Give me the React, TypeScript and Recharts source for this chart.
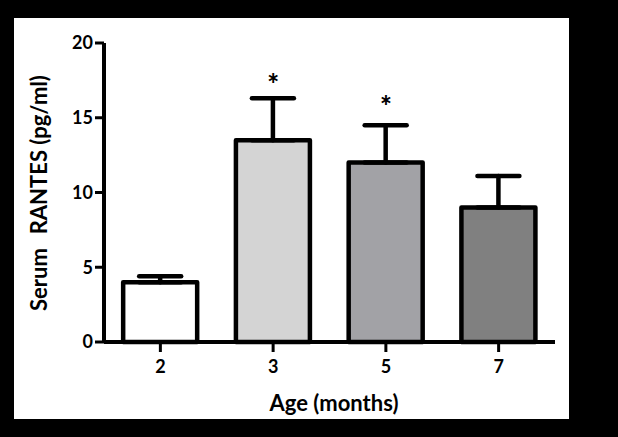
import React from 'react'
import { ComposedChart, Bar, Cell, ErrorBar, Scatter, XAxis, YAxis, Label } from 'recharts'

const months = ['2', '3', '5', '7']
const meanRantes = [4.0, 13.5, 12.0, 9.0]
const semRantes = [0.4, 2.8, 2.5, 2.1]
const starLevels: Array<number | null> = [null, 17.6, 16.1, null]
const yTicks = [0, 5, 10, 15, 20]
const barFills = ['#ffffff', '#d4d4d4', '#a2a2a6', '#808080']

const data = months.map((m, i) => ({
  month: m,
  value: meanRantes[i],
  err: [0, semRantes[i]],
  star: starLevels[i],
}))

const FONT = 'Lato, "Open Sans", sans-serif'
const tickStyle = { fill: '#000', fontSize: 18, fontWeight: 700, fontFamily: FONT }

const renderStar = (props: any) => {
  const { cx, cy, payload } = props
  if (payload == null || payload.star == null) return <g />
  return (
    <text x={cx} y={cy + 15} textAnchor="middle" fontSize={28} fontWeight={900} fontFamily={FONT} fill="#000">
      *
    </text>
  )
}

export default function App() {
  return (
    <div style={{ position: 'absolute', left: 0, top: 0, width: 618, height: 437, background: '#000' }}>
      <div style={{ position: 'absolute', left: 14, top: 18, width: 555, height: 401, background: '#fff' }}>
        <ComposedChart
          width={555}
          height={401}
          data={data}
          margin={{ top: 25, right: 14, bottom: 37, left: 30 }}
          barCategoryGap="17%"
        >
          <XAxis
            dataKey="month"
            height={40}
            tick={tickStyle}
            tickSize={10}
            tickMargin={8}
            tickLine={{ stroke: '#000', strokeWidth: 3 }}
            axisLine={{ stroke: '#000', strokeWidth: 4 }}
          >
            <Label
              content={() => (
                <text x={320} y={393} textAnchor="middle" fontSize={22} fontWeight={700} fontFamily={FONT} fill="#000">
                  Age (months)
                </text>
              )}
            />
          </XAxis>
          <YAxis
            width={60}
            domain={[0, 20]}
            ticks={yTicks}
            interval={0}
            tick={tickStyle}
            tickSize={9}
            tickMargin={2}
            tickLine={{ stroke: '#000', strokeWidth: 3 }}
            axisLine={{ stroke: '#000', strokeWidth: 4 }}
          >
            <Label
              content={() => (
                <text
                  transform="translate(33, 175) rotate(-90)"
                  textAnchor="middle"
                  fontSize={22}
                  fontWeight={700}
                  fontFamily={FONT}
                  fill="#000"
                >
                  <tspan>Serum</tspan>
                  <tspan dx={14}>RANTES (pg/ml)</tspan>
                </text>
              )}
            />
          </YAxis>
          <Bar dataKey="value" stroke="#000" strokeWidth={4.5} strokeLinejoin="round" isAnimationActive={false}>
            {data.map((d, i) => (
              <Cell key={d.month} fill={barFills[i]} />
            ))}
            <ErrorBar dataKey="err" width={21} stroke="#000" strokeWidth={4.5} strokeLinecap="round" direction="y" />
          </Bar>
          <Scatter dataKey="star" shape={renderStar} isAnimationActive={false} />
        </ComposedChart>
      </div>
    </div>
  )
}
